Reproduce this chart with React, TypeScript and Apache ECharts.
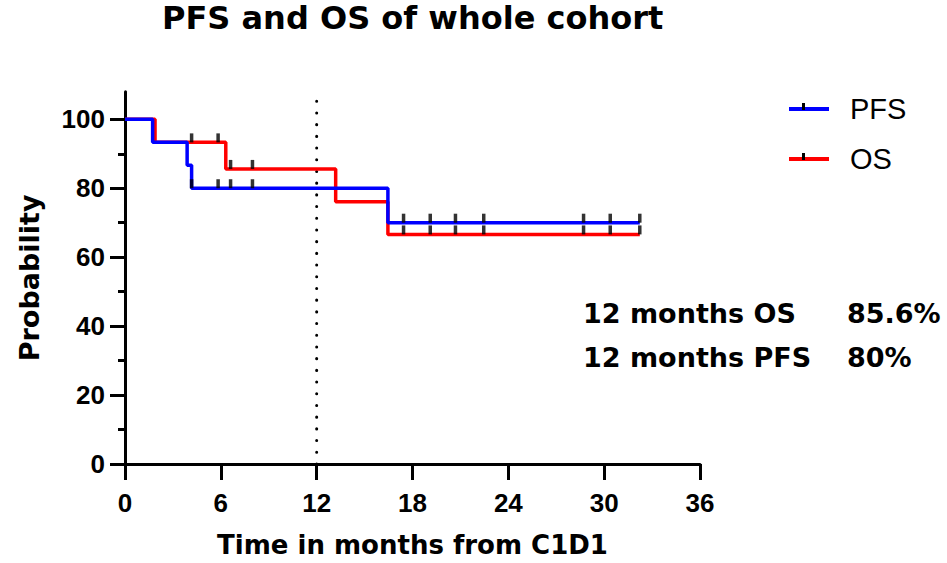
import React, { useEffect, useRef } from "react";
import * as echarts from "echarts";

const TITLE = "PFS and OS of whole cohort";
const X_NAME = "Time in months from C1D1";
const Y_NAME = "Probability";

// Kaplan-Meier step points (time in months, probability %)
const pfsTimes = [0, 1.73, 3.89, 4.17, 16.46, 32.23];
const pfsSurv = [100, 93.3, 86.7, 80, 70, 70];
const osTimes = [0, 1.88, 6.31, 13.19, 16.46, 32.23];
const osSurv = [100, 93.3, 85.6, 76.1, 66.6, 66.6];

// censoring times
const pfsCensor = [4.17, 5.83, 6.61, 7.98, 17.44, 19.11, 20.69, 22.46, 28.71, 30.38, 32.23];
const osCensor = [4.17, 5.83, 6.61, 7.98, 17.44, 19.11, 20.69, 22.46, 28.71, 30.38, 32.23];

const yMajorTicks = [0, 20, 40, 60, 80, 100];
const yMinorTicks = [10, 30, 50, 70, 90];
const landmark = 12;

const annotLabels = ["12 months OS", "12 months PFS"];
const annotValues = ["85.6%", "80%"];

const BOLD = "'DejaVu Sans', sans-serif";
const ARIAL = "'Liberation Sans', Arial, sans-serif";

function survAt(times: number[], surv: number[], t: number) {
  let v = surv[0];
  for (let i = 0; i < times.length; i++) if (times[i] <= t) v = surv[i];
  return v;
}

export default function App() {
  const ref = useRef<HTMLDivElement>(null);
  useEffect(() => {
    if (!ref.current) return;
    const chart = echarts.init(ref.current, undefined, { renderer: "svg" });
    const censorSymbol = {
      symbol: "rect",
      symbolSize: [3.5, 9],
      symbolOffset: [0, -4.5],
      itemStyle: { color: "#000" },
    };
    chart.setOption({
      animation: false,
      backgroundColor: "#fff",
      title: {
        text: TITLE,
        left: 157,
        top: -3,
        textStyle: { fontFamily: BOLD, fontWeight: "bold", fontSize: 32, color: "#000" },
      },
      legend: {
        orient: "vertical",
        left: 784,
        top: 89,
        itemWidth: 40,
        itemHeight: 4,
        itemGap: 20,
        icon: "rect",
        data: ["PFS", "OS"],
        textStyle: {
          fontFamily: ARIAL,
          fontSize: 29,
          lineHeight: 30,
          color: "#000",
          padding: [0, 0, 0, 16],
        },
      },
      grid: { left: 125, top: 91.7, width: 575, height: 372.8, containLabel: false },
      xAxis: {
        type: "value",
        min: 0,
        max: 36,
        interval: 6,
        name: X_NAME,
        nameLocation: "middle",
        nameGap: 68,
        nameTextStyle: { fontFamily: BOLD, fontWeight: "bold", fontSize: 26, color: "#000" },
        axisLine: { show: true, lineStyle: { color: "#000", width: 3 } },
        axisTick: { show: true, length: 16, lineStyle: { color: "#000", width: 3 } },
        axisLabel: { margin: 26, fontFamily: ARIAL, fontWeight: "bold", fontSize: 26, color: "#000" },
        splitLine: { show: false },
      },
      yAxis: [
        {
          type: "value",
          min: 0,
          max: 108,
          interval: 20,
          position: "left",
          name: Y_NAME,
          nameLocation: "middle",
          nameGap: 82,
          nameTextStyle: { fontFamily: BOLD, fontWeight: "bold", fontSize: 27, color: "#000" },
          axisLine: { show: true, lineStyle: { color: "#000", width: 3 } },
          axisTick: { show: true, length: 15, customValues: yMajorTicks, lineStyle: { color: "#000", width: 3 } },
          axisLabel: {
            margin: 20,
            customValues: yMajorTicks,
            fontFamily: ARIAL,
            fontWeight: "bold",
            fontSize: 26,
            color: "#000",
          },
          splitLine: { show: false },
        },
        {
          type: "value",
          min: 0,
          max: 108,
          position: "left",
          axisLine: { show: false },
          axisTick: { show: true, length: 7, customValues: yMinorTicks, lineStyle: { color: "#000", width: 3 } },
          axisLabel: { show: false },
          splitLine: { show: false },
        },
      ],
      series: [
        {
          name: "landmark",
          type: "line",
          data: [
            [landmark, 0],
            [landmark, 108],
          ],
          showSymbol: false,
          silent: true,
          lineStyle: { color: "#000", width: 3, type: [0.1, 11.6], cap: "round" },
          z: 1,
        },
        {
          name: "OS",
          type: "line",
          step: "end",
          data: osTimes.map((t, i) => [t, osSurv[i]]),
          showSymbol: false,
          color: "#ff0000",
          lineStyle: { color: "#ff0000", width: 3.5 },
          z: 2,
        },
        {
          name: "PFS",
          type: "line",
          step: "end",
          data: pfsTimes.map((t, i) => [t, pfsSurv[i]]),
          showSymbol: false,
          color: "#0000ff",
          lineStyle: { color: "#0000ff", width: 3.5 },
          z: 3,
        },
        {
          name: "OS censored",
          type: "scatter",
          data: osCensor.map((t) => [t, survAt(osTimes, osSurv, t)]),
          ...censorSymbol,
          z: 4,
        },
        {
          name: "PFS censored",
          type: "scatter",
          data: pfsCensor.map((t) => [t, survAt(pfsTimes, pfsSurv, t)]),
          ...censorSymbol,
          z: 4,
        },
      ],
      graphic: [
        { type: "rect", left: 802, top: 103, shape: { width: 3, height: 7 }, style: { fill: "#000" }, z: 10 },
        { type: "rect", left: 802, top: 153, shape: { width: 3, height: 7 }, style: { fill: "#000" }, z: 10 },
        ...annotLabels.map((s, i) => ({
          type: "text",
          x: 583,
          y: 313.5 + i * 44,
          style: {
            text: s,
            fontFamily: BOLD,
            fontWeight: "bold",
            fontSize: 27,
            fill: "#000",
            verticalAlign: "middle",
          },
        })),
        ...annotValues.map((s, i) => ({
          type: "text",
          x: 847,
          y: 313.5 + i * 44,
          style: {
            text: s,
            fontFamily: BOLD,
            fontWeight: "bold",
            fontSize: 27,
            fill: "#000",
            verticalAlign: "middle",
          },
        })),
      ],
    });
    return () => chart.dispose();
  }, []);
  return (
    <div
      ref={ref}
      style={{ position: "fixed", left: 0, top: 0, width: 947, height: 563 }}
    />
  );
}
